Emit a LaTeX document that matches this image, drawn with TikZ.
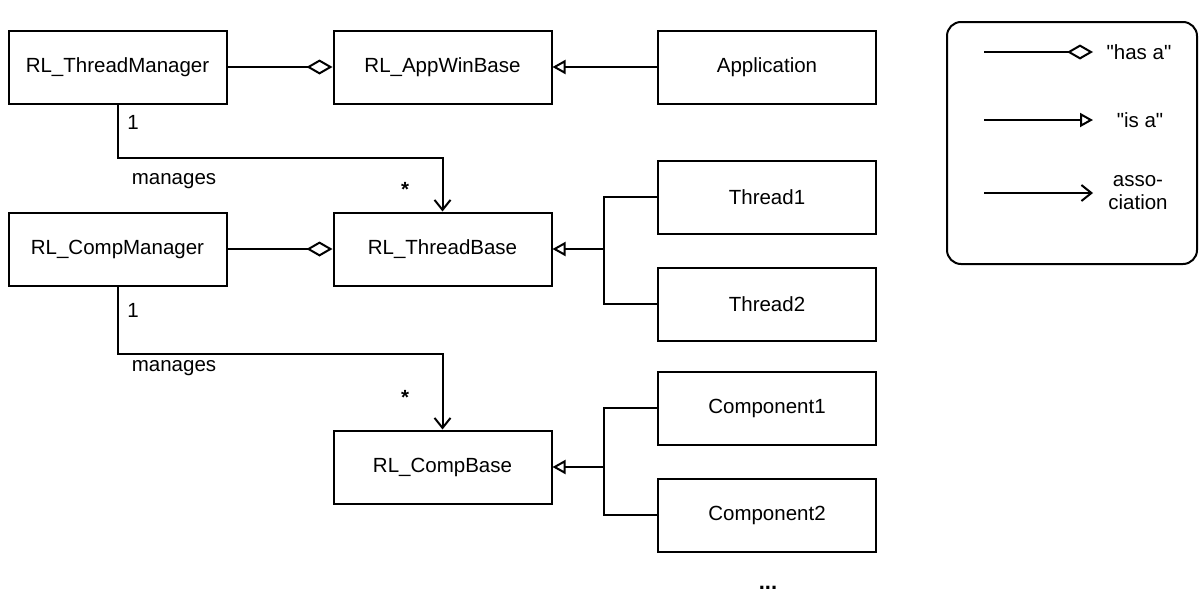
\documentclass[tikz,border=0pt]{standalone}
\usepackage{fontspec}
\setmainfont{Liberation Sans}
\newfontfamily\plainfont{Liberation Sans}
\usetikzlibrary{arrows.meta}
\begin{document}
\begin{tikzpicture}[x=1pt,y=-1pt,
  cls/.style={draw,line width=2pt,minimum width=218pt,minimum height=73pt,inner sep=0pt,font=\fontsize{20.5}{24}\selectfont},
  lbl/.style={inner sep=0pt,font=\fontsize{20.5}{24}\selectfont},
  conn/.style={line width=2pt},
  hasa/.style={conn,-{Diamond[open,length=26pt,width=15pt,line width=2pt]}},
  isa/.style={conn,-{Triangle[open,length=13pt,width=14pt,line width=2pt]}},
  assoc/.style={conn,-{Straight Barb[length=10pt,width=16pt,line width=2pt]}}]
\useasboundingbox (0,0) rectangle (1201,597);
\node[cls] (tm) at (117.5,67) {RL\_ThreadManager};
\node[cls] (awb) at (442.5,67) {RL\_AppWinBase};
\node[cls] (app) at (767,67) {Application};
\node[cls] (cm) at (117.5,249) {RL\_CompManager};
\node[cls] (tb) at (442.5,249) {RL\_ThreadBase};
\node[cls] (t1) at (767,197) {Thread1};
\node[cls] (t2) at (767,304) {Thread2};
\node[cls] (cb) at (442.5,467) {RL\_CompBase};
\node[cls] (c1) at (767,408) {Component1};
\node[cls] (c2) at (767,515) {Component2};
\draw[hasa] (tm) -- (awb);
\draw[isa] (app) -- (awb);
\draw[hasa] (cm) -- (tb);
\coordinate (b1) at (604,249);
\coordinate (b2) at (604,467);
\draw[conn] (t1.west) -| (b1) |- (t2.west);
\draw[isa] (b1) -- (tb.east);
\draw[conn] (c1.west) -| (b2) |- (c2.west);
\draw[isa] (b2) -- (cb.east);
\draw[assoc] (tm.south) -- ++(0,53) -| (tb.north);
\draw[assoc] (cm.south) -- ++(0,67) -| (cb.north);
\node[lbl] (n1) at (133,122) {1};
\node[lbl] (m1) at (174,181) {manages};
\node[lbl,font=\fontsize{20.5}{24}\selectfont\bfseries] (s1) at (405,189) {*};
\node[lbl] (n2) at (133,310) {1};
\node[lbl] (m2) at (174,368) {manages};
\node[lbl,font=\fontsize{20.5}{24}\selectfont\bfseries] (s2) at (405,397) {*};
\node[lbl,font=\fontsize{22}{24}\selectfont\bfseries] (dots) at (768,588) {...};
% legend
\node[draw,line width=2pt,rounded corners=14pt,minimum width=250pt,minimum height=242pt] (leg) at (1072,143) {};
\coordinate (l1a) at (984,52); \coordinate (l1b) at (1093,52);
\coordinate (l2a) at (984,120); \coordinate (l2b) at (1093,120);
\coordinate (l3a) at (984,193); \coordinate (l3b) at (1093,193);
\draw[hasa] (l1a) -- (l1b);
\draw[isa] (l2a) -- (l2b);
\draw[assoc] (l3a) -- (l3b);
\node[lbl,font=\fontsize{20.5}{24}\plainfont] (t1l) at (1139,52) {"has a"};
\node[lbl,font=\fontsize{20.5}{24}\plainfont] (t2l) at (1140,120) {"is a"};
\node[lbl,align=center,font=\fontsize{20.5}{23}\selectfont] (t3l) at (1138,193) {asso-\\ciation};
\end{tikzpicture}
\end{document}
